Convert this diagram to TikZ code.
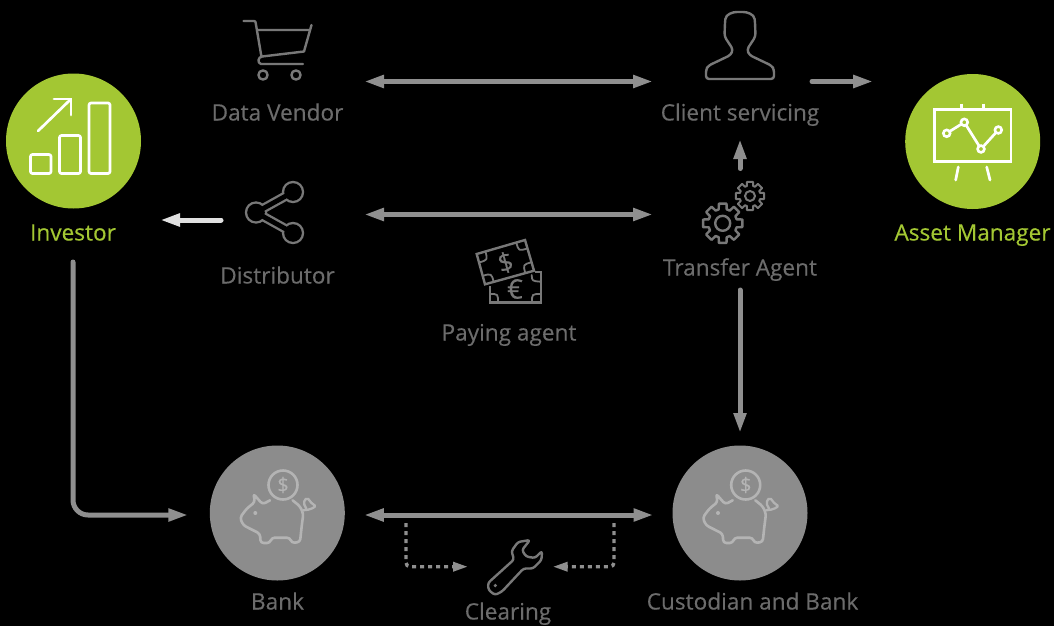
\documentclass[tikz,border=0pt]{standalone}
\usepackage{fontspec}
\setmainfont{Open Sans}[BoldFont={Open Sans},BoldFeatures={FakeBold=0.4}]
\usetikzlibrary{arrows.meta,calc}
\definecolor{gn}{HTML}{A3C733}
\definecolor{gnt}{HTML}{A3C733}
\definecolor{ln}{HTML}{8F8F8F}
\definecolor{ic}{HTML}{787878}
\definecolor{tx}{HTML}{6C6C6C}
\definecolor{cg}{HTML}{8C8C8C}
\definecolor{pg}{HTML}{B4B4B4}
\definecolor{wt}{HTML}{E0E0E0}
\tikzset{
  lab/.style={inner sep=0pt,outer sep=0pt,text height=16pt,text depth=5pt,font=\fontsize{22.6}{24}\bfseries\selectfont,text=tx},
  glab/.style={lab,text=gnt},
  disc/.style={circle,minimum size=135pt,inner sep=0pt,outer sep=0pt},
  iconbox/.style={inner sep=0pt,outer sep=0pt,minimum width=70pt,minimum height=60pt},
  icon/.style={draw=ic,line width=2.4pt,line join=round,line cap=round},
  wico/.style={draw=white,line width=2.7pt,line join=round,line cap=round},
  conn/.style={draw=ln,line width=5pt,line cap=round},
  big/.style={-{Triangle[length=20pt,width=12pt]}},
  both/.style={{Triangle[length=20pt,width=12pt]}-{Triangle[length=20pt,width=12pt]}},
  dots/.style={draw=ln,line width=3.4pt,dash pattern=on 4pt off 4pt,-{Triangle[length=15pt,width=9pt]}},
  pig/.pic={
    \draw[draw=pg,line width=2.6pt,line join=round,line cap=round,rounded corners=3pt]
      (-7.3,-12.7) -- (-14.7,-8.7) -- (-24,-19.3) -- (-22.3,-11) -- (-30.7,-4.3) -- (-37.3,4.7) -- (-34,12.3) -- (-17.3,20.7) -- (-16.7,30) -- (-7.3,30) -- (-5.7,24.7) -- (12.7,24.7) -- (14.3,30) -- (22.7,29) -- (24.3,14) -- (26,0.7) -- (22.7,-6.7) -- (15.3,-12.7);
    \draw[draw=pg,line width=2.3pt,line cap=round] (26,-2.7) .. controls (33,-3) and (39,-6) .. (37.5,-7.5) .. controls (35,-9) and (33,-11) .. (31,-14) .. controls (27,-16) and (25,-9) .. (29,-4.5);
    \fill[pg] (-22,0) circle (2pt);
    \draw[draw=pg,line width=2.6pt] (5.7,-28) circle (14.5pt);
    \node[inner sep=0pt,text=pg,font=\fontsize{20}{20}\bfseries\selectfont] (dollar) at (5.7,-28) {\$};
  }
}
\begin{document}
\begin{tikzpicture}[x=1pt,y=-1pt]
\useasboundingbox[fill=black] (0,0) rectangle (1054,626);

% discs
\node[disc,fill=gn] (investor) at (73.5,141) {};
\node[disc,fill=gn] (asset) at (972.7,141.5) {};
\node[disc,fill=cg] (bank) at (277.3,513) {};
\node[disc,fill=cg] (custodian) at (740,513) {};

% icon holders
\node[iconbox] (cart) at (277,81.5) {};
\node[iconbox] (person) at (740,81.5) {};
\node[iconbox] (share) at (276,214.5) {};
\node[iconbox] (gears) at (740,214.5) {};
\node[iconbox,minimum width=56pt] (wrench) at (508,566.7) {};

% labels
\node[lab] (datalabel) at (277.5,115) {Data Vendor};
\node[lab] (clientlabel) at (740,115) {Client servicing};
\node[glab] (investorlabel) at (73,235) {Investor};
\node[glab] (assetlabel) at (972.5,235) {Asset Manager};
\node[lab] (distlabel) at (277.5,278) {Distributor};
\node[lab] (transferlabel) at (740,270) {Transfer Agent};
\node[lab] (payinglabel) at (509,335) {Paying agent};
\node[lab] (banklabel) at (277.5,604) {Bank};
\node[lab] (custlabel) at (752.5,604) {Custodian and Bank};
\node[lab] (clearlabel) at (508,614) {Clearing};

% investor icon
\draw[wico,rounded corners=2pt] (30.5,154.5) rectangle (51,173.5);
\draw[wico,rounded corners=2pt] (59.5,135.5) rectangle (80.5,173.5);
\draw[wico,rounded corners=2pt] (89,103) rectangle (110,173.5);
\draw[wico] (38,131) -- (71,99);
\draw[wico] (54,99) -- (71,99) -- (71,115);

% asset icon
\draw[wico,line cap=butt,line join=miter] (934.5,109.5) rectangle (1011,161.5);
\draw[wico,line cap=butt] (961.7,103.5) -- (961.7,109.5) (983.3,103.5) -- (983.3,109.5);
\draw[wico] (958.3,167) -- (955.7,180) (986.7,167) -- (990,180);
\draw[wico] (946.7,133.3) -- (964.3,122.3) -- (981,149) -- (998.3,130);
\foreach \p in {(946.7,133.3),(964.3,122.3),(981,149),(998.3,130)}
  \draw[draw=white,line width=2.6pt,fill=gn] \p circle (3.4pt);

% cart
\draw[icon] (243.5,21) -- (254,21) .. controls (255.5,21) and (255.5,22) .. (255.7,23) -- (261.5,57);
\draw[icon] (257,30) -- (309.5,30) (311.5,25) -- (304,51.5) -- (262,56.5) .. controls (258,57) and (257,63) .. (261,64) -- (303,64);
\draw[icon] (263,75) circle (4.6pt) (296,75) circle (4.6pt);

% person
\draw[icon,rounded corners=3pt] (706,79) -- (706,69.5) -- (708.3,65.7) -- (730.7,55) -- (733,49.5) -- (724.5,36.5) -- (725,22) .. controls (726,14) and (733,12) .. (740,12) .. controls (747,12) and (754,14) .. (755,22) -- (755.5,36.5) -- (747,49.5) -- (749.3,55) -- (771.7,65.7) -- (774,69.5) -- (774,79) -- cycle;

% share: union outline
\begin{scope}
\draw[ic,line width=9.5pt,line cap=round] (293,192) -- (256,212.5) -- (293,233);
\fill[ic] (293,192) circle (11.2pt) (256,212.5) circle (11.2pt) (293,233) circle (11.2pt);
\draw[black,line width=4.8pt,line cap=round] (293,192) -- (256,212.5) -- (293,233);
\fill[black] (293,192) circle (8.8pt) (256,212.5) circle (8.8pt) (293,233) circle (8.8pt);
\end{scope}

% gears
\draw[icon,line width=2pt,shift={(750,196)}] (-12:14.5) foreach \a in {0,45,...,315} { -- (\a-12:14.5) -- (\a+12:14.5) -- (\a+17:10.5) -- (\a+28:10.5) } -- cycle;
\draw[icon,line width=2pt] (750,196) circle (5pt);
\draw[icon,shift={(722.7,223.3)}] (-11:20) foreach \a in {0,45,...,315} { -- (\a-11:20) -- (\a+11:20) -- (\a+16:14.5) -- (\a+29:14.5) } -- cycle;
\draw[icon] (722.7,223.3) circle (7.5pt);

% money
\draw[icon,line cap=butt,line join=miter] (476.7,254) -- (525,240) -- (534,270.7) -- (485,284.3) -- cycle;
\draw[icon,line width=1.8pt] (485.4,251.5) .. controls (487.7,260) .. (479,262.5)
  (516.3,242.5) .. controls (518.6,251) .. (527.3,248.5)
  (531.7,262.2) .. controls (523,264.6) .. (525.3,273.1)
  (482.7,275.8) .. controls (491.4,273.4) .. (493.7,281.9);
\draw[icon,line cap=butt,line join=miter] (490,286) -- (490,302.3) -- (540.7,302.3) -- (540.7,271.7) -- (535,271.7);
\draw[icon,line width=1.8pt] (490,294) .. controls (498,294) .. (498,302.3)
  (532,302.3) .. controls (532,294) .. (540.7,294)
  (531.7,275) .. controls (532,281) .. (540.7,281.7);
\node[inner sep=0pt,rotate=16,text=ic,font=\fontsize{26}{26}\bfseries\selectfont] (dollarsign) at (505.5,262.5) {\$};
\node[inner sep=0pt,text=ic,font=\fontsize{27}{27}\bfseries\selectfont] (eurosign) at (515,289) {€};

% wrench
\draw[icon,rounded corners=2.5pt] (530,540) -- (518,542) -- (511.5,551) -- (514,559.5) -- (488,583) -- (488.5,590) -- (495,595) -- (502,591.5) -- (523.5,568.5) -- (533,568.5) -- (541.5,560) -- (542,551) -- (535,558) -- (526,556.5) -- (522,550) -- cycle;
\fill[ic] (495.3,585.5) circle (1.8pt);

% piggies
\pic (bankpig) at (277.3,513) {pig};
\pic (custpig) at (740,513) {pig};

% connectors
\draw[conn,both,shorten <=52pt,shorten >=52pt] (cart.east) -- (person.west);
\draw[conn,big,shorten <=37pt,shorten >=32pt] (person.east) -- (person.east -| asset.west);
\draw[conn,big,shorten <=16pt,shorten >=13.5pt] (gears.north) -- (clientlabel.south);
\draw[conn,both,shorten <=53pt,shorten >=52pt] (share.east) -- (gears.west);
\draw[conn,big,draw=wt,-{Triangle[length=20pt,width=12pt,fill=wt]},shorten <=20pt,shorten >=19pt] ([yshift=-5.5pt]share.west) -- ([yshift=-5.5pt]share.west -| investor.east);
\draw[conn,big,shorten <=9.5pt,shorten >=12.5pt] (transferlabel.south) -- (custodian.north);
\draw[conn,big,rounded corners=15pt,shorten <=16.5pt,shorten >=21.5pt] (investorlabel.south) -- ([yshift=-2pt]investorlabel.south |- bank.west) -- ([yshift=-2pt]bank.west);
\draw[conn,both,shorten <=19pt,shorten >=19pt] ([yshift=-2pt]bank.east) -- ([yshift=-2pt]custodian.west);
\coordinate (dotl) at (406,523);
\coordinate (dotr) at (614,523);
\draw[dots,rounded corners=4pt,shorten >=12pt] (dotl) -- (dotl |- wrench.west) -- (wrench.west);
\draw[dots,rounded corners=4pt,shorten >=16.7pt] (dotr) -- (dotr |- wrench.east) -- (wrench.east);
\end{tikzpicture}
\end{document}
